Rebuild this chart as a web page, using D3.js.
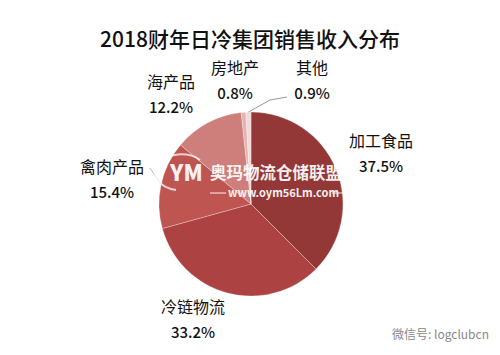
<!DOCTYPE html>
<html><head><meta charset="utf-8">
<script src="https://cdn.jsdelivr.net/npm/d3@7/dist/d3.min.js"></script>
<style>body{margin:0;background:#fff}svg{display:block}</style>
</head><body>
<script>
const categories = ["加工食品","冷链物流","禽肉产品","海产品","房地产","其他"];
const values = [37.5, 33.2, 15.4, 12.2, 0.8, 0.9];
const valueLabels = ["37.5%","33.2%","15.4%","12.2%","0.8%","0.9%"];
const colors = ["#943737","#ac4342","#bf5551","#cf7f7b","#e6b3b2","#f3dada"];

const W = 500, H = 355, cx = 251, cy = 204, R = 92;
const svg = d3.select("body").append("svg").attr("width", W).attr("height", H);
const font = "'Noto Sans CJK SC','Noto Sans',sans-serif";

svg.append("text").attr("x", 250).attr("y", 47).attr("text-anchor","middle")
  .attr("font-family", font).attr("font-size", 21).attr("font-weight", 500)
  .attr("fill","#111").text("2018财年日冷集团销售收入分布");

const pie = d3.pie().sort(null).value(d => d)(values);
const arc = d3.arc().innerRadius(0).outerRadius(R);
const g = svg.append("g").attr("transform", `translate(${cx},${cy})`);
g.selectAll("path").data(pie).join("path")
  .attr("d", arc).attr("fill", (d,i) => colors[i])
  .attr("stroke", "rgba(255,255,255,0.35)").attr("stroke-width", 0.8);

// label positions (relative to the chart), one per category
const labelPos = [[381,141],[193,307],[112,167],[171,82],[235,68],[312,68]];
const lg = svg.append("g").attr("font-family", font).attr("fill","#111").attr("text-anchor","middle");
categories.forEach((c,i) => {
  const [x,y] = labelPos[i];
  lg.append("text").attr("x", x).attr("y", y + 6).attr("font-size", 16).text(c);
  lg.append("text").attr("x", x).attr("y", y + 31).attr("font-size", 15).attr("font-weight", 500).text(valueLabels[i]);
});

// leader lines
function edgePoint(i){ const a = (pie[i].startAngle + pie[i].endAngle)/2; return [cx + R*Math.sin(a), cy - R*Math.cos(a)]; }
const e5 = edgePoint(5), e2 = edgePoint(2);
svg.append("polyline").attr("points", `${e5[0]},${e5[1]} 270,100 287,97`)
  .attr("fill","none").attr("stroke","#999").attr("stroke-width",1);
svg.append("polyline").attr("points", `${e2[0]},${e2[1]} 150,168`)
  .attr("fill","none").attr("stroke","#bbb").attr("stroke-width",1);

// watermark text
const wm = svg.append("g").attr("font-family", font).attr("fill","#fff").attr("opacity",0.92);
wm.append("path").attr("d","M176,190 A26,18 0 1 1 200,160").attr("fill","none").attr("stroke","#fff").attr("stroke-width",2).attr("opacity",0.8);
wm.append("text").attr("x", 170).attr("y", 181).attr("font-size", 22).attr("font-weight", 900).text("YM");
wm.append("text").attr("x", 210).attr("y", 179).attr("font-size", 16.5).attr("font-weight", 700).text("奥玛物流仓储联盟");
wm.append("text").attr("x", 228).attr("y", 197).attr("font-size", 11).attr("font-weight", 700).text("www.oym56Lm.com");
wm.append("line").attr("x1",210).attr("x2",226).attr("y1",193).attr("y2",193).attr("stroke","#fff");
wm.append("line").attr("x1",332).attr("x2",344).attr("y1",193).attr("y2",193).attr("stroke","#fff");

svg.append("text").attr("x", 392).attr("y", 339).attr("font-family", font).attr("font-size", 12)
  .attr("fill","#888").text("微信号: logclubcn");
</script>
</body></html>
